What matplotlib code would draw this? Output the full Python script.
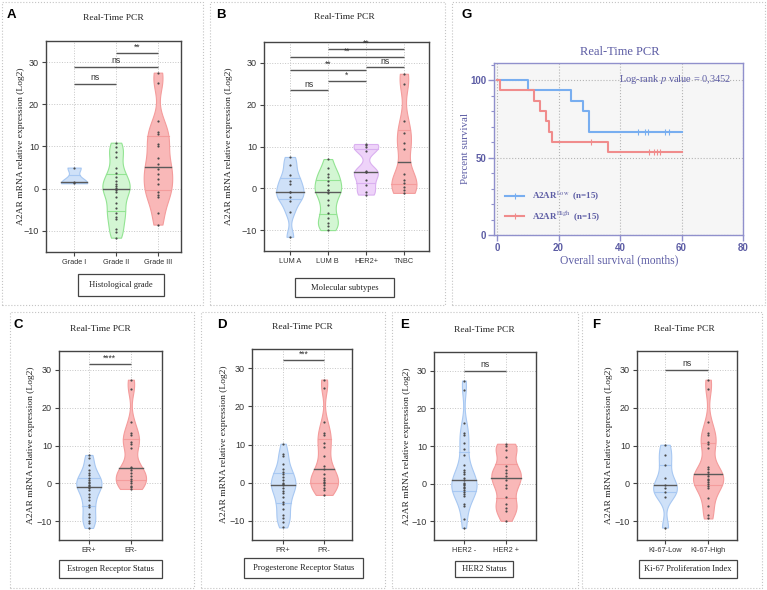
import numpy as np
import matplotlib.pyplot as plt
from matplotlib.patches import Rectangle
from matplotlib.lines import Line2D
from matplotlib.ticker import MultipleLocator

plt.rcParams['mathtext.fontset'] = 'stix'

SERIF = 'Liberation Serif'
SANS = 'Liberation Sans'

# ---------------- data ----------------
grade_labels = ['Grade I', 'Grade II', 'Grade III']
grade_1 = [5.0, 1.5, 1.3]
grade_2 = [10.9, 9.8, 8.6, 7.6, 5.0, 3.8, 2.8, 1.8, 1.2, 0.7, 0.2, -0.4, -0.9,
           -2.0, -3.5, -4.5, -5.7, -6.7, -7.1, -9.5, -10.3, -11.6]
grade_3 = [27.5, 25.0, 16.1, 13.4, 13.0, 10.6, 10.1, 7.2, 5.8, 4.6, 3.6, 2.4,
           1.2, -0.8, -1.4, -2.0, -5.7, -8.5]
grade_sig = [(0, 1, 24.9, 'ns'), (0, 2, 28.8, 'ns'), (1, 2, 32.1, '**')]

subtype_labels = ['LUM A', 'LUM B', 'HER2+', 'TNBC']
lum_a = [7.5, 5.5, 3.2, 1.7, 1.0, -0.9, -0.9, -2.1, -3.1, -5.6, -11.6]
lum_b = [7.0, 4.8, 3.5, 2.8, 1.7, 0.9, -0.3, -0.5, -1.1, -2.9, -3.9, -5.9, -7.1,
         -8.3, -9.1, -10.0]
her2_pos = [10.6, 10.3, 10.0, 9.0, 4.2, 4.0, 3.8, 2.0, 0.7, -1.0, -1.5]
tnbc = [27.4, 25.0, 16.1, 13.2, 10.9, 9.3, 3.5, 2.0, 1.2, 0.3, -0.3, -1.1]
subtype_sig = [(0, 1, 23.4, 'ns'), (1, 2, 25.6, '*'), (0, 2, 28.3, '**'),
               (2, 3, 28.9, 'ns'), (0, 3, 31.4, '**'), (1, 3, 33.3, '**')]

er_labels = ['ER+', 'ER-']
er_pos = [7.5, 6.6, 4.9, 3.5, 2.8, 2.2, 1.3, 0.9, 0.4, 0.0, -0.4, -0.7, -1.3,
          -1.9, -2.7, -3.5, -4.4, -5.8, -6.4, -8.0, -8.8, -10.0, -10.6, -11.8]
er_neg = [27.4, 25.0, 16.1, 13.3, 12.8, 10.8, 10.4, 9.3, 4.4, 4.0, 3.6, 2.7,
          2.0, 1.2, 0.5, 0.0, -0.6, -1.0, -1.5]
er_sig = [(0, 1, 31.6, '****')]

pr_labels = ['PR+', 'PR-']
pr_pos = [10.2, 7.5, 7.0, 4.9, 3.5, 2.9, 2.3, 1.4, 0.7, 0.0, -0.4, -0.7, -1.3,
          -2.1, -2.8, -3.7, -5.0, -5.6, -7.0, -8.4, -9.3, -10.2, -11.7]
pr_neg = [27.0, 24.9, 15.9, 13.1, 12.4, 10.4, 9.4, 7.0, 4.4, 3.5, 2.4, 1.1,
          0.8, 0.3, -0.2, -0.6, -1.3, -2.0, -3.2]
pr_sig = [(0, 1, 32.1, '***')]

her2_labels = ['HER2 -', 'HER2 +']
her2_neg = [27.4, 25.0, 16.1, 13.5, 13.0, 10.8, 9.3, 7.5, 4.9, 3.7, 3.1, 2.5,
            1.6, 0.9, 0.2, -0.2, -0.5, -0.9, -1.2, -1.8, -2.2, -2.7, -3.4,
            -5.5, -6.0, -9.3, -11.8]
her2_plus = [10.6, 10.0, 9.0, 7.1, 4.7, 3.5, 2.8, 2.0, 0.9, -0.4, -1.2, -3.5,
             -5.3, -6.6, -7.3, -9.9]
her2_sig = [(0, 1, 30.0, 'ns')]

ki_labels = ['KI-67-Low', 'KI-67-High']
ki_low = [10.2, 7.5, 4.9, 1.5, -0.4, -1.2, -2.4, -3.5, -11.7]
ki_high = [27.4, 25.0, 16.1, 13.3, 12.8, 10.8, 10.4, 9.3, 4.4, 3.7, 3.1, 2.4,
           1.8, 1.2, 0.8, 0.4, -0.2, -0.6, -1.2, -4.0, -6.0, -8.4, -9.3]
ki_sig = [(0, 1, 30.0, 'ns')]

# Kaplan-Meier (percent survival)
low_t = [0, 10, 24, 28, 30, 60]
low_s = [100, 93.3, 86.7, 80.0, 66.7, 66.7]
low_cens = [46, 48, 49, 54.5, 56]
high_t = [0, 1, 12, 14, 16, 17, 18, 36, 60]
high_s = [100, 93.3, 86.7, 80.0, 73.3, 66.7, 60.0, 53.3, 53.3]
high_cens = [30.5, 49.5, 51, 52, 53]

# ---------------- styling ----------------
BLUE = ('#cfe1f8', '#a8c8f2')
GREEN = ('#d3f6d3', '#93e493')
RED = ('#f9b8b8', '#f49c9c')
PURPLE = ('#eed3f9', '#dab0f0')
KM_BLUE = '#78aef0'
KM_RED = '#f08c8c'
G_INK = '#5c5ca4'

W, H = 767, 590
fig = plt.figure(figsize=(W / 100, H / 100), dpi=100)


def axes_px(l, t, r, b):
    return fig.add_axes([l / W, 1 - b / H, (r - l) / W, (b - t) / H])


def ftext(x, y, s, **kw):
    return fig.text(x / W, 1 - y / H, s, **kw)


def frame_px(l, t, r, b, **kw):
    fig.add_artist(Rectangle((l / W, 1 - b / H), (r - l) / W, (b - t) / H,
                             transform=fig.transFigure, fill=False, **kw))


# dotted panel frames
for box in [(2, 2, 203, 305), (210, 2, 445, 305), (452, 2, 765, 305),
            (10, 312, 194, 588), (201, 312, 385, 588), (392, 312, 578, 588),
            (582, 312, 762, 588)]:
    frame_px(*box, ec='#c4c4c4', lw=0.8, ls=':')


def violin_panel(rect, xlim, groups, labels, colors, widths, bws, sigs, title_xy,
                 letter, letter_xy, box, box_text, ylab_x):
    ax = axes_px(*rect)
    pos = list(range(len(groups)))
    for k, g in enumerate(groups):
        g = np.asarray(g)
        parts = ax.violinplot([g], positions=[k], widths=widths[k],
                              showextrema=False, bw_method=bws[k])
        body = parts['bodies'][0]
        fc, ec = colors[k]
        body.set_facecolor(fc)
        body.set_edgecolor(ec)
        body.set_alpha(1)
        body.set_linewidth(0.8)
        body.set_zorder(2)
        v = body.get_paths()[0].vertices
        half = v[v[:, 0] >= k - 1e-9]
        order = np.argsort(half[:, 1])
        ys, xs = half[order, 1], half[order, 0] - k
        for q in np.percentile(g, [25, 75]):
            hw = np.interp(q, ys, xs)
            ax.plot([k - hw, k + hw], [q, q], color=ec, lw=0.8, zorder=3)
        med = np.median(g)
        hw = np.interp(med, ys, xs)
        ax.plot([k - hw, k + hw], [med, med], color='#5a5a5a', lw=1.0, zorder=4)
        ax.scatter([k] * len(g), g, s=2.5, color='#4a4a4a', zorder=5, lw=0)
    for i, j, y, s in sigs:
        ax.plot([i, j], [y, y], color='#555555', lw=1.0, solid_capstyle='butt')
        ax.text((i + j) / 2, y + 0.4, s, ha='center', va='bottom', fontsize=6.2,
                family=SANS, color='#333333')
    ax.set_xlim(*xlim)
    ax.set_ylim(-15, 35)
    ax.set_yticks([-10, 0, 10, 20, 30])
    ax.set_xticks(pos)
    ax.set_xticklabels(labels, fontsize=5.3, family=SANS)
    ax.tick_params(length=3, width=0.8, color='#444444', labelcolor='#333333', pad=2)
    ax.tick_params(axis='y', labelsize=6.5)
    for lab in ax.get_yticklabels():
        lab.set_family(SANS)
    ax.grid(True, ls=':', color='#c6c6c6', lw=0.7)
    ax.set_axisbelow(True)
    for sp in ax.spines.values():
        sp.set_color('#444444')
        sp.set_linewidth(1.0)
    ax.set_ylabel('A2AR mRNA relative expression (Log2)', family=SERIF,
                  fontsize=6.8, color='#222222')
    ax.yaxis.set_label_coords((ylab_x - rect[0]) / (rect[2] - rect[0]), 0.5)
    ftext(*title_xy, 'Real-Time PCR', ha='center', va='center', family=SERIF,
          fontsize=6.8, color='#222222')
    ftext(*letter_xy, letter, ha='left', va='center', family=SANS,
          fontweight='bold', fontsize=9.5, color='black')
    frame_px(*box, ec='#444444', lw=0.9)
    ftext((box[0] + box[2]) / 2, (box[1] + box[3]) / 2, box_text, ha='center',
          va='center', family=SERIF, fontsize=6.1, color='#222222')
    return ax


violin_panel((46, 41, 181, 252), (-0.67, 2.55), [grade_1, grade_2, grade_3],
             grade_labels, [BLUE, GREEN, RED], [0.62, 0.65, 0.68],
             [0.55, 0.32, 0.3], grade_sig,
             (113, 18), 'A', (7, 15), (78, 274, 164, 296), 'Histological grade', 25)

violin_panel((264, 42, 429, 251), (-0.68, 3.66), [lum_a, lum_b, her2_pos, tnbc],
             subtype_labels, [BLUE, GREEN, PURPLE, RED], [0.72, 0.7, 0.65, 0.66],
             [0.32, 0.32, 0.32, 0.32], subtype_sig, (344, 17), 'B', (216, 15),
             (295, 278, 394, 297), 'Molecular subtypes', 233)

violin_panel((59, 351, 162, 540), (-0.71, 1.74), [er_pos, er_neg], er_labels,
             [BLUE, RED], [0.6, 0.72], [0.32, 0.3], er_sig, (100, 329), 'C', (13, 325),
             (59, 560, 162, 578), 'Estrogen Receptor Status', 35)

violin_panel((252, 349, 352, 540), (-0.76, 1.68), [pr_pos, pr_neg], pr_labels,
             [BLUE, RED], [0.6, 0.68], [0.32, 0.3], pr_sig, (302, 327), 'D', (217, 325),
             (244, 558, 363, 578), 'Progesterone Receptor Status', 228)

violin_panel((434, 352, 536, 540), (-0.71, 1.71), [her2_neg, her2_plus],
             her2_labels, [BLUE, RED], [0.6, 0.7], [0.3, 0.32], her2_sig, (484, 330),
             'E', (400, 325), (455, 561, 513, 577), 'HER2 Status', 411)

violin_panel((637, 351, 737, 540), (-0.65, 1.67), [ki_low, ki_high], ki_labels,
             [BLUE, RED], [0.55, 0.7], [0.35, 0.3], ki_sig, (684, 329), 'F', (592, 325),
             (639, 560, 737, 578), 'Ki-67 Proliferation Index', 613)

# ---------------- panel G : Kaplan-Meier ----------------
axg = axes_px(494, 63, 743, 235)
axg.set_facecolor('#f6f6f6')


def surv_at(ts, ss, t):
    return ss[np.searchsorted(ts, t, side='right') - 1]


axg.step(low_t, low_s, where='post', color=KM_BLUE, lw=1.5, zorder=3)
axg.step(high_t, high_s, where='post', color=KM_RED, lw=1.5, zorder=3)
axg.plot(low_cens, [surv_at(low_t, low_s, t) for t in low_cens], ls='none',
         marker='|', ms=4, mew=0.8, color=KM_BLUE, zorder=4)
axg.plot(high_cens, [surv_at(high_t, high_s, t) for t in high_cens], ls='none',
         marker='|', ms=4, mew=0.8, color=KM_RED, zorder=4)

axg.set_xlim(-1, 80)
axg.set_ylim(0, 111)
axg.set_xticks([0, 20, 40, 60, 80])
axg.set_yticks([0, 50, 100])
axg.yaxis.set_minor_locator(MultipleLocator(10))
axg.grid(True, ls=':', color='#b4b4b4', lw=0.8)
axg.set_axisbelow(True)
for sp in axg.spines.values():
    sp.set_color('#9090cc')
    sp.set_linewidth(1.0)
axg.tick_params(which='major', length=4, width=1, color='#9090cc',
                labelcolor=G_INK, labelsize=7, pad=1.5)
axg.tick_params(which='minor', length=2, width=0.8, color='#9090cc')
for lab in axg.get_xticklabels() + axg.get_yticklabels():
    lab.set_fontweight('bold')
    lab.set_family(SANS)

handles = [Line2D([0], [0], color=KM_BLUE, lw=1.5, marker='|', ms=4, mew=0.8),
           Line2D([0], [0], color=KM_RED, lw=1.5, marker='|', ms=4, mew=0.8)]
axg.legend(handles, [r'A2AR$^{\mathrm{Low}}$  (n=15)', r'A2AR$^{\mathrm{High}}$  (n=15)'],
           loc='lower left', bbox_to_anchor=(0.01, 0.02), frameon=False,
           prop={'family': SERIF, 'weight': 'bold', 'size': 6.5},
           labelcolor=G_INK, handlelength=2.2, handletextpad=0.8, labelspacing=0.7)

ftext(620, 52, 'Real-Time PCR', ha='center', va='center', family=SERIF,
      fontsize=9, color=G_INK)
ftext(619, 260, 'Overall survival (months)', ha='center', va='center',
      family=SERIF, fontsize=8.3, color=G_INK)
ftext(466, 149, 'Percent survival', ha='center', va='center', rotation=90,
      family=SERIF, fontsize=7.8, color=G_INK)
ftext(731, 80, r'Log-rank $p$ value = 0,3452', ha='right', va='center',
      family=SERIF, fontsize=7.5, color=G_INK)
ftext(462, 15, 'G', ha='left', va='center', family=SANS, fontweight='bold',
      fontsize=9.5, color='black')

fig.savefig('out.png', dpi=100, facecolor='white')
